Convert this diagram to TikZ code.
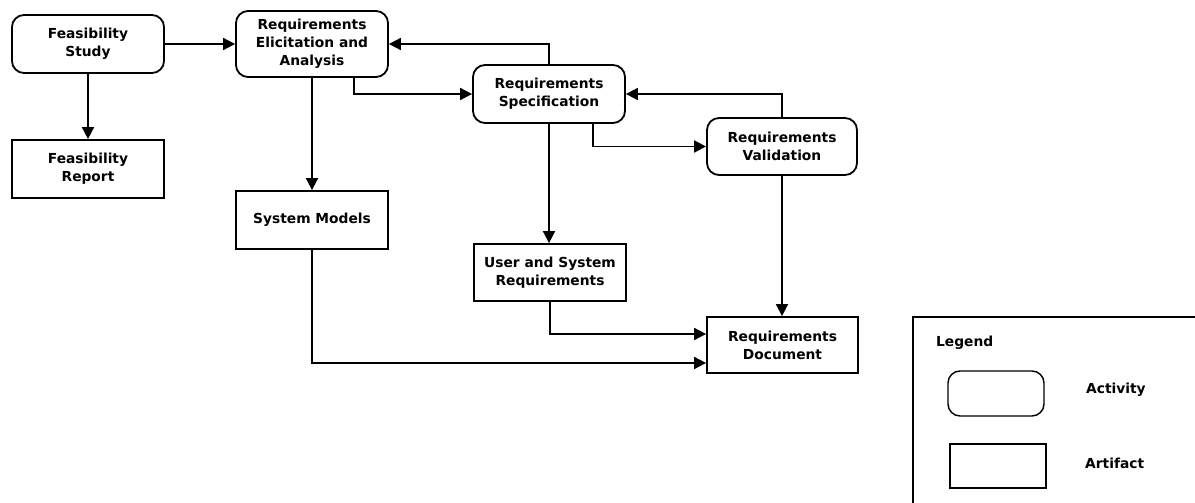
\documentclass[tikz,border=0pt]{standalone}
\usepackage{fontspec}
\setmainfont{DejaVu Sans}
\usetikzlibrary{arrows.meta}
\begin{document}
\begin{tikzpicture}[x=1pt,y=-1pt,
  every node/.style={font=\bfseries\fontsize{13.8}{18}\selectfont, align=center, inner sep=0pt},
  activity/.style={draw, line width=1.8pt, rounded corners=12pt, minimum width=152pt, minimum height=58pt},
  artifact/.style={draw, line width=1.8pt, minimum width=152pt, minimum height=58pt},
  flow/.style={line width=1.8pt, -{Triangle[length=12pt,width=12pt]}},
  lbl/.style={anchor=west}
]
\useasboundingbox (0,0) rectangle (1195,503);

% activities
\node[activity] (fs) at (88,44) {Feasibility\\Study};
\node[activity, minimum height=66pt] (rea) at (312,44) {Requirements\\Elicitation and\\Analysis};
\node[activity] (rs) at (549,94) {Requirements\\Specification};
\node[activity, minimum width=150pt, minimum height=57pt] (rv) at (782,146.5) {Requirements\\Validation};

% artifacts
\node[artifact] (fr) at (88,169) {Feasibility\\Report};
\node[artifact] (sm) at (312,220) {System Models};
\node[artifact, minimum height=57pt] (usr) at (550,272.5) {User and System\\Requirements};
\node[artifact, minimum width=151pt, minimum height=56pt] (rd) at (782.5,345) {Requirements\\Document};

% process flow
\draw[flow] (fs.east) -- (rea.east -| rea.west);
\draw[flow] (fs.south) -- (fr.north);
\draw[flow] (rea.south) -- (sm.north);
\draw[flow] (rea.south -| 354,0) |- (rs.west);
\draw[flow] (rs.north) |- (rea.east);
\draw[flow] (rs.south -| 593,0) |- (rv.west);
\draw[flow] (rv.north) |- (rs.east);
\draw[flow] (rs.south) -- (rs.south |- usr.north);
\draw[flow] (rv.south) -- (rv.south |- rd.north);
\draw[flow] (usr.south) |- (rd.west |- 0,334) coordinate (rdin1);
\draw[flow] (sm.south) |- (rd.west |- 0,363) coordinate (rdin2);

% legend
\draw[line width=1.8pt] (913,520) -- (913,317) -- (1210,317);
\node[lbl] (lg) at (936,343) {Legend};
\node[draw, line width=1.4pt, rounded corners=12pt, minimum width=96pt, minimum height=45pt] (la) at (996,393.5) {};
\node[lbl] (lat) at (1086,390) {Activity};
\node[draw, line width=1.4pt, minimum width=96pt, minimum height=44pt] (lr) at (998,466) {};
\node[lbl] (lrt) at (1085,463) {Artifact};
\end{tikzpicture}
\end{document}
